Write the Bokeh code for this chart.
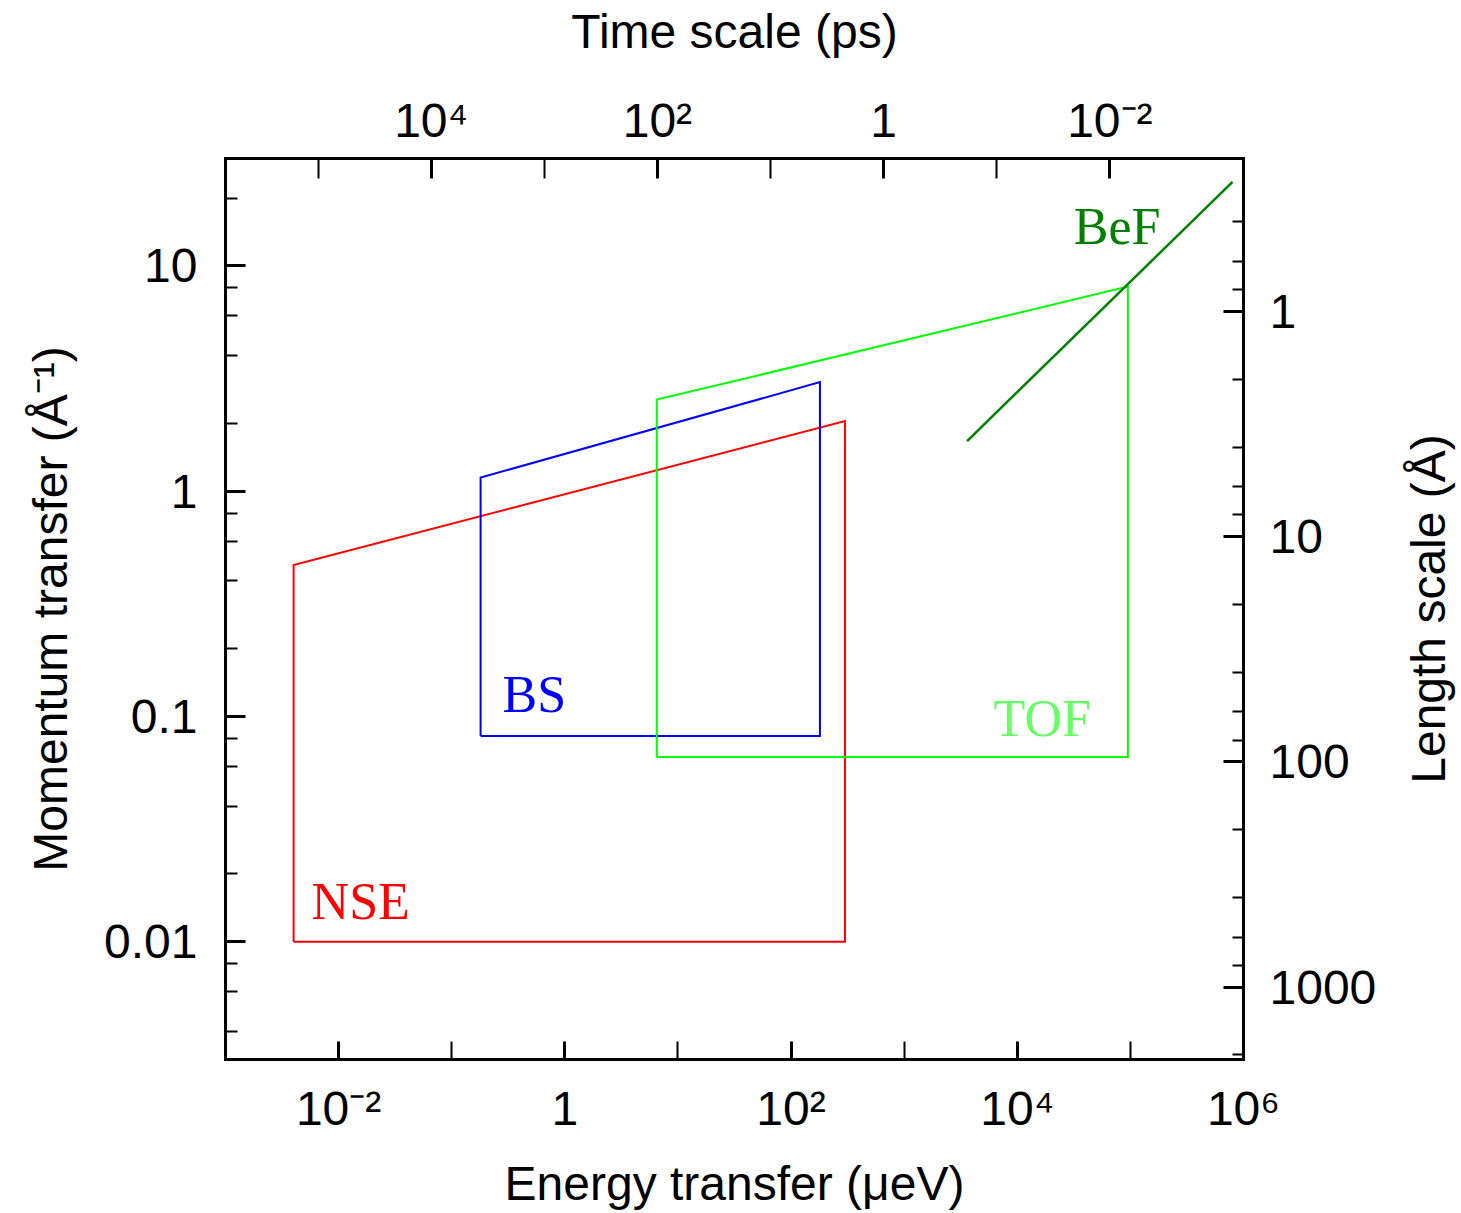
import math
from bokeh.plotting import figure
from bokeh.layouts import row
from bokeh.models import Range1d, LogScale, LogAxis, FixedTicker, CustomJSTickFormatter
from bokeh.core.properties import value
from bokeh.embed import file_html
from bokeh.resources import INLINE

# ---------------- data ----------------
energy_range = (1e-3, 1e6)      # energy transfer, micro-eV
q_range = (0.003, 30)           # momentum transfer, 1/Angstrom
HBAR = 658.2                    # micro-eV * ps  (time = hbar / E)
TWO_PI = 2 * math.pi            # length = 2 pi / Q

# instrument windows (E in micro-eV, Q in 1/Angstrom)
nse_E = [0.004, 0.004, 300, 300, 0.004]
nse_Q = [0.01, 0.47, 2.05, 0.01, 0.01]
bs_E = [0.18, 0.18, 180, 180, 0.18]
bs_Q = [0.082, 1.15, 3.05, 0.082, 0.082]
tof_E = [6.5, 6.5, 95000, 95000, 6.5]
tof_Q = [0.066, 2.55, 8.1, 0.066, 0.066]
bef_E = [3600, 8.0e5]
bef_Q = [1.67, 23.6]

# ticks and tick labels
e_major = [1e-2, 1, 1e2, 1e4, 1e6]
e_major_labels = ["10⁻²", "1", "10²", "10⁴", "10⁶"]
e_minor = [1e-1, 1e1, 1e3, 1e5]
t_major = [1e4, 1e2, 1, 1e-2]
t_major_labels = ["10⁴", "10²", "1", "10⁻²"]
t_minor = [1e5, 1e3, 1e1, 1e-1]
q_major = [0.01, 0.1, 1, 10]
q_major_labels = ["0.01", "0.1", "1", "10"]
q_minor = [0.004, 0.006, 0.008, 0.02, 0.04, 0.06, 0.08, 0.2, 0.4, 0.6, 0.8, 2, 4, 6, 8, 20]
l_major = [1, 10, 100, 1000]
l_major_labels = ["1", "10", "100", "1000"]
l_minor = [0.4, 0.6, 0.8, 2, 4, 6, 8, 20, 40, 60, 80, 200, 400, 600, 800, 2000]

LENGTH_TITLE = "Length scale (Å)"


def label_formatter(vals, labs):
    return CustomJSTickFormatter(args=dict(vals=vals, labs=labs), code="""
        let best = 0, bd = Infinity;
        for (let i = 0; i < vals.length; i++) {
            const d = Math.abs(Math.log10(vals[i]) - Math.log10(tick));
            if (d < bd) { bd = d; best = i; }
        }
        return labs[best];
    """)


def style_axis(ax, major_in, minor_in, standoff, label_standoff):
    ax.axis_line_width = 3
    ax.axis_line_color = "black"
    ax.axis_line_cap = "square"
    ax.major_tick_in = major_in
    ax.major_tick_out = 0
    ax.minor_tick_in = minor_in
    ax.minor_tick_out = 0
    ax.major_tick_line_width = 3
    ax.minor_tick_line_width = 2
    ax.major_tick_line_color = "black"
    ax.minor_tick_line_color = "black"
    ax.major_label_text_font = "Liberation Sans"
    ax.major_label_text_font_size = "48px"
    ax.major_label_text_color = "black"
    ax.major_label_standoff = standoff
    ax.axis_label_text_font = "Liberation Sans"
    ax.axis_label_text_font_size = "48px"
    ax.axis_label_text_font_style = "normal"
    ax.axis_label_text_color = "black"
    ax.axis_label_standoff = label_standoff


TOP, BOTTOM = 158, 153
p = figure(width=1400, height=1212, x_axis_type="log", y_axis_type="log",
           x_range=Range1d(*energy_range), y_range=Range1d(*q_range),
           output_backend="svg", toolbar_location=None, tools="",
           min_border_left=225, min_border_right=157,
           min_border_top=TOP, min_border_bottom=BOTTOM)
p.outline_line_color = None
p.xgrid.visible = False
p.ygrid.visible = False
p.background_fill_color = "white"
p.border_fill_color = "white"

# bottom axis: energy
bx = p.xaxis[0]
bx.ticker = FixedTicker(ticks=e_major, minor_ticks=e_minor)
bx.formatter = label_formatter(e_major, e_major_labels)
bx.axis_label = "Energy transfer (μeV)"
style_axis(bx, 18, 18, 22, 19)

# left axis: momentum transfer
ly = p.yaxis[0]
ly.ticker = FixedTicker(ticks=q_major, minor_ticks=q_minor)
ly.formatter = label_formatter(q_major, q_major_labels)
ly.axis_label = "Momentum transfer (Å⁻¹)"
style_axis(ly, 20, 12, 28, 24)

# top axis: time scale
p.extra_x_ranges = {"time": Range1d(start=HBAR / energy_range[0], end=HBAR / energy_range[1])}
p.extra_x_scales = {"time": LogScale()}
tx = LogAxis(x_range_name="time", ticker=FixedTicker(ticks=t_major, minor_ticks=t_minor),
             formatter=label_formatter(t_major, t_major_labels), axis_label="Time scale (ps)")
style_axis(tx, 20, 20, 12, 33)
p.add_layout(tx, "above")

# right axis: length scale
p.extra_y_ranges = {"length": Range1d(start=TWO_PI / q_range[0], end=TWO_PI / q_range[1])}
p.extra_y_scales = {"length": LogScale()}
ry = LogAxis(y_range_name="length", ticker=FixedTicker(ticks=l_major, minor_ticks=l_minor),
             formatter=label_formatter(l_major, l_major_labels))
style_axis(ry, 20, 11, 26, 20)
p.add_layout(ry, "right")

# instrument windows
p.line(nse_E, nse_Q, line_color="#ff0000", line_width=2, line_join="miter")
p.line(bs_E, bs_Q, line_color="#0000ff", line_width=2, line_join="miter")
p.line(tof_E, tof_Q, line_color="#00ff00", line_width=2, line_join="miter")
p.line(bef_E, bef_Q, line_color="#008000", line_width=2.5)

serif = value("Liberation Serif")
p.text(x=[nse_E[0]], y=[nse_Q[0]], text=["NSE"], x_offset=18, y_offset=-40,
       text_font=serif, text_font_size="52px", text_color="#ff0000",
       text_align="left", text_baseline="alphabetic")
p.text(x=[bs_E[0]], y=[bs_Q[0]], text=["BS"], x_offset=22, y_offset=-41,
       text_font=serif, text_font_size="52px", text_color="#0000ff",
       text_align="left", text_baseline="alphabetic")
p.text(x=[tof_E[3]], y=[tof_Q[3]], text=["TOF"], x_offset=-37, y_offset=-39,
       text_font=serif, text_font_size="52px", text_color="#66ff66",
       text_align="right", text_baseline="alphabetic")
p.text(x=[bef_E[1]], y=[bef_Q[1]], text=["BeF"], x_offset=-72, y_offset=45,
       text_font=serif, text_font_size="52px", text_color="#008000",
       text_align="right", text_baseline="alphabetic")

# strip to the right holding the right-axis title (reads bottom to top)
p2 = figure(width=60, height=1212, y_axis_type="log",
            x_range=Range1d(0, 1), y_range=p.y_range,
            output_backend="svg", toolbar_location=None, tools="",
            min_border_left=0, min_border_right=0,
            min_border_top=TOP, min_border_bottom=BOTTOM,
            x_axis_location=None, y_axis_location=None)
p2.outline_line_color = None
p2.xgrid.visible = False
p2.ygrid.visible = False
p2.border_fill_color = "white"
p2.text(x=[0.47], y=[math.sqrt(q_range[0] * q_range[1])], text=[LENGTH_TITLE],
        angle=math.pi / 2, text_font=value("Liberation Sans"), text_font_size="48px",
        text_color="black", text_align="center", text_baseline="middle")

open("out.html", "w").write(file_html(row(p, p2), INLINE))
